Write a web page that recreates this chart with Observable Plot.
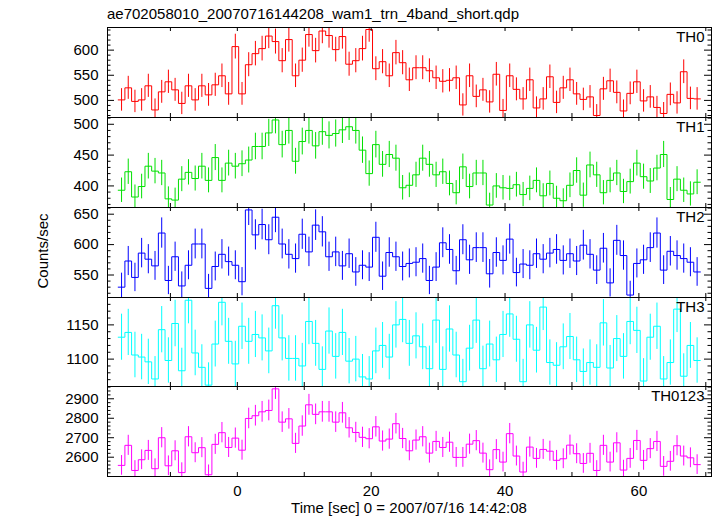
<!DOCTYPE html>
<html><head><meta charset="utf-8">
<script src="https://cdn.jsdelivr.net/npm/d3@7"></script>
<script src="https://cdn.jsdelivr.net/npm/@observablehq/plot@0.6"></script>
<style>
body{margin:0;background:#fff;}
#chart{position:relative;width:717px;height:516px;font-family:"Liberation Sans",Arial,Helvetica,sans-serif;color:#000;overflow:hidden;}
.abs{position:absolute;white-space:nowrap;font-size:15px;line-height:15px;}
</style></head><body><div id="chart"></div>
<script>
const title = "ae702058010_20070716144208_wam1_trn_4band_short.qdp";
const xLabel = "Time [sec] 0 = 2007/07/16 14:42:08";
const yLabel = "Counts/sec";
const bands = ["TH0", "TH1", "TH2", "TH3", "TH0123"];
const binStart = -17.8;
const binWidth = 1;

const th0 = [501,525,498,501,529,481,517,537,521,494,
  529,501,529,511,531,549,513,607,513,571,
  593,603,628,617,579,621,549,580,631,599,
  638,629,601,627,572,579,603,641,563,577,
  549,595,575,541,565,565,559,545,538,540,
  545,491,549,508,521,497,552,480,549,522,
  503,541,485,503,547,496,525,541,513,502,
  507,470,523,539,516,479,514,537,499,507,
  486,474,512,495,557,504,503];
const th1 = [393,423,382,399,432,424,421,379,377,411,
  422,412,432,409,446,409,437,432,436,442,
  464,464,486,507,467,490,440,472,490,465,
  488,482,485,491,496,490,458,420,467,435,
  451,445,397,401,418,445,435,418,423,404,
  389,431,399,421,421,369,400,397,396,402,
  386,396,409,384,404,380,376,401,425,385,
  434,418,389,409,421,391,407,437,415,408,
  429,451,378,411,393,387,406];
const th2 = [530,573,546,586,576,565,619,541,580,532,
  566,601,601,528,564,584,572,566,539,657,
  616,633,608,645,601,584,577,617,588,632,
  621,580,588,565,585,555,566,563,612,548,
  587,580,564,569,571,577,541,563,603,592,
  557,608,575,595,595,552,587,574,609,554,
  568,566,585,576,586,592,574,585,573,599,
  584,558,594,537,607,582,517,569,575,595,
  619,558,589,582,577,571,555];
const th3 = [1132,1139,1106,1103,1096,1071,1143,1098,1152,1083,
  1186,1109,1088,1062,1122,1183,1126,1093,1148,1126,
  1136,1131,1112,1178,1131,1101,1101,1090,1155,1123,
  1085,1141,1104,1139,1097,1100,1074,1071,1112,1120,
  1103,1150,1158,1123,1134,1118,1086,1157,1085,1144,
  1106,1067,1116,1157,1086,1122,1099,1136,1166,1129,
  1067,1150,1113,1176,1095,1091,1118,1133,1099,1082,
  1095,1088,1153,1087,1130,1104,1155,1142,1068,1132,
  1148,1071,1095,1173,1075,1120,1098];
const th0123 = [2558,2661,2532,2587,2635,2541,2700,2556,2633,2521,
  2705,2623,2649,2510,2666,2726,2650,2698,2636,2799,
  2813,2833,2840,2951,2780,2797,2671,2760,2869,2820,
  2833,2833,2780,2828,2751,2727,2702,2695,2756,2683,
  2693,2772,2696,2633,2688,2705,2621,2681,2650,2677,
  2599,2599,2667,2685,2621,2536,2639,2575,2721,2606,
  2524,2652,2594,2640,2631,2584,2592,2662,2618,2568,
  2620,2532,2661,2575,2674,2534,2594,2686,2584,2644,
  2681,2553,2579,2659,2606,2597,2562];

const series = [th0, th1, th2, th3, th0123];
const yMajor = [[500,550,600],[400,450,500],[550,600,650],[1100,1150],[2600,2700,2800,2900]];
const yMinorStep = [10,10,10,10,20];
const xTickValues = [-10,0,10,20,30,40,50,60,70];
const xTickLabels = [0,20,40,60];

// scale settings
const xDomain = [-19.4, 70.85];
const yDomains = [[466,645],[365,511],[513,661],[1060,1190],[2501,2963]];
const colors = ["#ff0000","#00e000","#0000ff","#00ffff","#ff00ff"];

const W = 717, ML = 107, MR = 6;
const panelTops = [27, 117, 207, 297, 386];
const panelH = [90, 90, 90, 89, 90];

const chart = document.getElementById("chart");
function addText(txt, css) {
  const d = document.createElement("div");
  d.className = "abs";
  d.textContent = txt;
  Object.assign(d.style, css);
  chart.appendChild(d);
}

series.forEach((vals, i) => {
  const last = i === series.length - 1;
  const h = panelH[i], mb = last ? 40 : 0;
  const [y0, y1] = yDomains[i];
  const pxX = (W - ML - MR) / (xDomain[1] - xDomain[0]);
  const pxY = h / (y1 - y0);
  const bins = vals.map((v, k) => ({t: binStart + k * binWidth, v}));
  const step = bins.concat([{t: binStart + vals.length * binWidth, v: vals[vals.length - 1]}]);
  const errs = bins.map(d => ({t: d.t + binWidth / 2, lo: d.v - Math.sqrt(d.v), hi: d.v + Math.sqrt(d.v)}));
  const s = yMinorStep[i];
  const minor = d3.range(Math.ceil(y0 / s) * s, y1, s).filter(v => !yMajor[i].includes(v));
  const c = colors[i];
  const marks = [
    Plot.ruleX(errs, {x: "t", y1: "lo", y2: "hi", stroke: c, strokeWidth: 1, clip: true}),
    Plot.line(step, {x: "t", y: "v", curve: "step-after", stroke: c, strokeWidth: 1, clip: true}),
    Plot.ruleY(yMajor[i], {y: d => d, x1: xDomain[0], x2: xDomain[0] + 7 / pxX, stroke: "#000"}),
    Plot.ruleY(yMajor[i], {y: d => d, x1: xDomain[1] - 7 / pxX, x2: xDomain[1], stroke: "#000"}),
    Plot.ruleY(minor, {y: d => d, x1: xDomain[0], x2: xDomain[0] + 3.5 / pxX, stroke: "#000"}),
    Plot.ruleY(minor, {y: d => d, x1: xDomain[1] - 3.5 / pxX, x2: xDomain[1], stroke: "#000"}),
    Plot.ruleX(xTickValues, {x: d => d, y1: y0, y2: y0 + 4 / pxY, stroke: "#000"}),
    Plot.ruleX(xTickValues, {x: d => d, y1: y1 - 4 / pxY, y2: y1, stroke: "#000"}),
    Plot.axisY({ticks: yMajor[i], anchor: "left", tickSize: 0, tickPadding: 9, tickFormat: d => String(d), fontSize: 15, label: null}),
    Plot.frame({stroke: "#000", strokeWidth: 1}),
    Plot.text([bands[i]], {frameAnchor: "top-right", dx: -7, dy: 4, lineAnchor: "top", textAnchor: "end", fontSize: 15, fill: "#000"})
  ];
  if (last) marks.push(Plot.axisX({ticks: xTickLabels, anchor: "bottom", tickSize: 0, tickPadding: 9, tickFormat: d => String(d), fontSize: 15, label: null}));
  const svg = Plot.plot({
    width: W, height: h + mb,
    marginLeft: ML, marginRight: MR, marginTop: 0, marginBottom: mb,
    x: {domain: xDomain, label: null, axis: last ? undefined : null},
    y: {domain: yDomains[i], label: null},
    style: {fontSize: "15px", fontFamily: "'Liberation Sans', Arial, Helvetica, sans-serif", background: "transparent", overflow: "visible"},
    marks
  });
  svg.style.position = "absolute";
  svg.style.left = "0px";
  svg.style.top = panelTops[i] + "px";
  chart.appendChild(svg);
});

addText(title, {left: "107px", top: "6px"});
addText(xLabel, {left: "409px", top: "500px", transform: "translateX(-50%)"});
addText(yLabel, {left: "42px", top: "251px", transform: "translate(-50%,-50%) rotate(-90deg)"});
</script></body></html>
